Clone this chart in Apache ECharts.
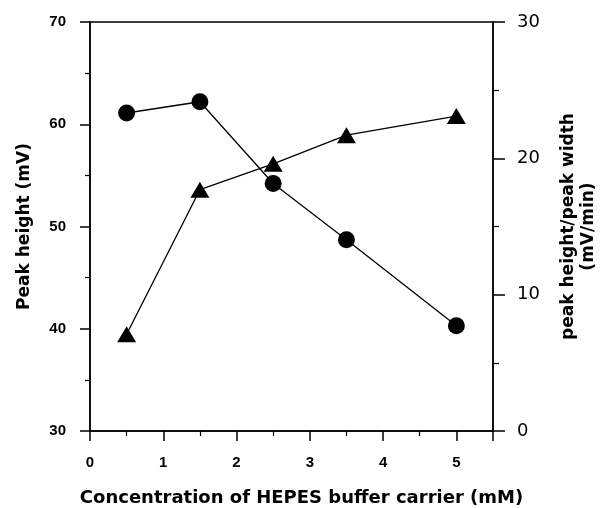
<!DOCTYPE html>
<html>
<head>
  <meta charset="utf-8" />
  <script src="https://cdn.jsdelivr.net/npm/echarts@6/dist/echarts.min.js"></script>
  <style>
    * { margin: 0; padding: 0; }
    #chart-container { width: 600px; height: 508px; background: #fff; }
  </style>
</head>
<body>
  <div id="chart-container"></div>
  <script>
    // HEPES concentration (mM)
    var concentration = [0.5, 1.5, 2.5, 3.5, 5];
    // peak height, left axis (mV)
    var peakHeight = [61.1, 62.2, 54.2, 48.7, 40.3];
    // peak height / peak width, right axis (mV/min)
    var heightPerWidth = [7.1, 17.7, 19.6, 21.7, 23.1];

    var font = 'Liberation Sans, Arial, sans-serif';
    var wide = 'DejaVu Sans, sans-serif';

    var dom = document.getElementById('chart-container');
    var myChart = echarts.init(dom, null, { renderer: 'canvas' });

    var option = {
      animation: false,
      backgroundColor: '#fff',
      grid: {
        left: 90, right: 107, top: 22, bottom: 77,
        outerBoundsMode: 'none',
        containLabel: false,
        show: true, borderColor: '#000', borderWidth: 1.5
      },
      xAxis: {
        type: 'value',
        min: 0, max: 5.5, interval: 1,
        name: 'Concentration of HEPES buffer carrier (mM)',
        nameLocation: 'middle',
        nameGap: 58,
        nameTextStyle: {
          fontFamily: wide, fontWeight: 'bold', fontSize: 18, color: '#000',
          padding: [0, 0, 0, 20]
        },
        axisLine: { onZero: false, lineStyle: { color: '#000', width: 1.5 } },
        axisTick: { length: 10, lineStyle: { color: '#000', width: 1.5 } },
        minorTick: { show: true, splitNumber: 2, length: 5, lineStyle: { color: '#000', width: 1.2 } },
        splitLine: { show: false },
        axisLabel: {
          margin: 24, fontFamily: font, fontWeight: 'bold', fontSize: 15, color: '#000',
          formatter: function (v) { return v > 5 ? '' : v; }
        }
      },
      yAxis: [
        {
          type: 'value',
          position: 'left',
          min: 30, max: 70, interval: 10,
          name: 'Peak height (mV)',
          nameLocation: 'middle',
          nameGap: 57,
          nameTextStyle: { fontFamily: wide, fontWeight: 'bold', fontSize: 17, color: '#000' },
          axisLine: { show: true, lineStyle: { color: '#000', width: 1.5 } },
          axisTick: { length: 10, lineStyle: { color: '#000', width: 1.5 } },
          minorTick: { show: true, splitNumber: 2, length: 5, lineStyle: { color: '#000', width: 1.2 } },
          splitLine: { show: false },
          axisLabel: { margin: 24, fontFamily: font, fontWeight: 'bold', fontSize: 15, color: '#000' }
        },
        {
          type: 'value',
          position: 'right',
          min: 0, max: 30, interval: 10,
          name: 'peak height/peak width\n(mV/min)',
          nameLocation: 'middle',
          nameGap: 66,
          nameRotate: 90,
          nameTextStyle: { fontFamily: wide, fontWeight: 'bold', fontSize: 17, color: '#000', lineHeight: 20 },
          axisLine: { show: true, lineStyle: { color: '#000', width: 1.5 } },
          axisTick: { length: 12, lineStyle: { color: '#000', width: 1.5 } },
          minorTick: { show: true, splitNumber: 2, length: 6, lineStyle: { color: '#000', width: 1.2 } },
          splitLine: { show: false },
          axisLabel: { margin: 24, fontFamily: wide, fontSize: 18, color: '#000' }
        }
      ],
      series: [
        {
          type: 'line',
          yAxisIndex: 0,
          data: concentration.map(function (x, i) { return [x, peakHeight[i]]; }),
          symbol: 'circle',
          symbolSize: 17,
          lineStyle: { color: '#000', width: 1.3 },
          itemStyle: { color: '#000' }
        },
        {
          type: 'line',
          yAxisIndex: 1,
          data: concentration.map(function (x, i) { return [x, heightPerWidth[i]]; }),
          symbol: 'triangle',
          symbolSize: [19, 16],
          lineStyle: { color: '#000', width: 1.3 },
          itemStyle: { color: '#000' }
        }
      ]
    };

    myChart.setOption(option);
    window.addEventListener('resize', myChart.resize);
  </script>
</body>
</html>
